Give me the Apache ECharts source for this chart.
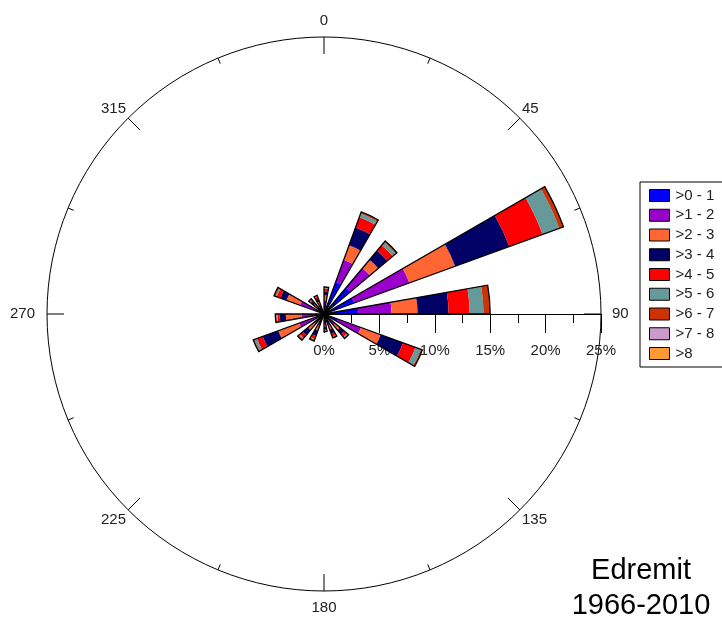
<!DOCTYPE html>
<html>
<head>
<meta charset="utf-8">
<script src="https://cdn.jsdelivr.net/npm/echarts@6/dist/echarts.min.js"></script>
<style>html,body{margin:0;padding:0;background:#fff;}#chart{width:722px;height:619px;}</style>
</head>
<body>
<div id="chart"></div>
<script>
// Compass start angle (degrees) of each 10-degree direction bin that has data
const binStarts = [0, 20, 40, 60, 80, 110, 130, 150, 170, 200, 220, 240, 260, 290, 310, 330];
const speedClasses = ['>0 - 1', '>1 - 2', '>2 - 3', '>3 - 4', '>4 - 5', '>5 - 6', '>6 - 7', '>7 - 8', '>8'];
const classColors = ['#0000FF', '#9900CC', '#FF6633', '#000066', '#FF0000', '#669999', '#CC3300', '#CC99CC', '#FF9933'];
// percent frequency per bin (same order as binStarts)
const sp0_1 = [0.6, 3.1, 3.1, 2.9, 3.1, 1.3, 0.4, 0.4, 0.4, 0.4, 0.4, 0.5, 0.6, 0.6, 0.3, 0.3];
const sp1_2 = [0.6, 2.1, 2.3, 5.3, 3.0, 2.25, 0.9, 0.7, 0.5, 0.7, 0.8, 1.9, 1.4, 1.7, 0.5, 0.5];
const sp2_3 = [0.5, 1.4, 1.0, 4.4, 2.35, 1.9, 0.6, 0.4, 0.3, 0.5, 0.7, 2.0, 1.45, 1.3, 0.4, 0.4];
const sp3_4 = [0.35, 1.7, 1.05, 5.2, 2.8, 2.15, 0.5, 0.4, 0.2, 0.5, 0.6, 1.5, 0.55, 0.6, 0.3, 0.3];
const sp4_5 = [0.25, 1.0, 0.65, 3.2, 1.9, 1.2, 0.3, 0.25, 0.1, 0.3, 0.35, 0.55, 0.2, 0.35, 0.15, 0.15];
const sp5_6 = [0.05, 0.35, 0.35, 1.6, 1.25, 0.5, 0.1, 0.05, 0.02, 0.05, 0.1, 0.25, 0.1, 0.1, 0.05, 0.05];
const sp6_7 = [0.1, 0.15, 0.15, 0.4, 0.6, 0.15, 0.1, 0.1, 0.08, 0.15, 0.15, 0.1, 0.1, 0.15, 0.1, 0.1];
const sp7_8 = [0, 0, 0, 0, 0, 0, 0, 0, 0, 0, 0, 0, 0, 0, 0, 0];
const sp8 = [0, 0, 0, 0, 0, 0, 0, 0, 0, 0, 0, 0, 0, 0, 0, 0];
const classValues = [sp0_1, sp1_2, sp2_3, sp3_4, sp4_5, sp5_6, sp6_7, sp7_8, sp8];
const angleTickLabels = [0, 45, 90, 135, 180, 225, 270, 315];
const radiusMax = 25;

// Category axis for bars starts at east (compass 90) and runs clockwise in 10-degree steps
const nBins = 36;
const catCompass = [];
for (let i = 0; i < nBins; i++) catCompass.push((90 + 10 * i) % 360);
function toCat(vals) {
  const arr = new Array(nBins).fill(0);
  binStarts.forEach((b, k) => { arr[catCompass.indexOf(b)] = vals[k]; });
  return arr;
}
const totals = binStarts.map((b, k) => classValues.reduce((s, v) => s + v[k], 0));

const FONT = 'Liberation Sans, Arial, sans-serif';
const series = speedClasses.map((name, j) => ({
  name: name,
  type: 'bar',
  coordinateSystem: 'polar',
  polarIndex: 0,
  stack: 'speed',
  data: toCat(classValues[j]),
  itemStyle: { color: classColors[j] },
  barCategoryGap: '0%',
  barGap: '-100%',
  silent: true
}));
series.push({
  name: 'outline',
  type: 'bar',
  coordinateSystem: 'polar',
  polarIndex: 0,
  data: toCat(totals),
  itemStyle: { color: 'rgba(0,0,0,0)', borderColor: '#000', borderWidth: 1.3 },
  barCategoryGap: '0%',
  barGap: '-100%',
  silent: true,
  z: 5
});

const lblBase = { fontSize: 15, fontFamily: FONT, color: '#222' };
const chart = echarts.init(document.getElementById('chart'), null, { renderer: 'canvas' });
chart.setOption({
  backgroundColor: '#fff',
  animation: false,
  polar: [
    { center: [324, 314], radius: 277 },
    { center: [324, 314], radius: 277 }
  ],
  angleAxis: [
    {
      polarIndex: 0, type: 'category', data: catCompass.map(String),
      startAngle: 0, clockwise: true, boundaryGap: true,
      axisLine: { show: false }, axisTick: { show: false }, axisLabel: { show: false }, splitLine: { show: false }
    },
    {
      polarIndex: 1, type: 'value', min: 0, max: 360, interval: 45,
      startAngle: 90, clockwise: true,
      axisLine: { show: true, lineStyle: { color: '#000', width: 1 } },
      axisTick: { show: true, inside: true, length: 17, lineStyle: { color: '#000', width: 1 } },
      minorTick: { show: true, splitNumber: 2, length: 6, lineStyle: { color: '#000', width: 1 } },
      splitLine: { show: false },
      axisLabel: {
        show: true, margin: 3, color: '#222', fontSize: 15, fontFamily: FONT,
        formatter: v => {
          if (angleTickLabels.indexOf(v) < 0) return '';
          const key = v === 0 ? 'n' : v === 90 ? 'e' : v === 180 ? 's' : v === 270 ? 'w' : 'd';
          return '{' + key + '|' + v + '}';
        },
        rich: {
          n: Object.assign({ padding: [0, 0, 6, 0] }, lblBase),
          e: Object.assign({ padding: [0, 0, 0, 8] }, lblBase),
          s: Object.assign({ padding: [6, 0, 0, 0] }, lblBase),
          w: Object.assign({ padding: [0, 9, 0, 0] }, lblBase),
          d: Object.assign({}, lblBase)
        }
      }
    }
  ],
  radiusAxis: [
    {
      polarIndex: 0, type: 'value', min: 0, max: radiusMax,
      axisLine: { show: false }, axisTick: { show: false }, axisLabel: { show: false }, splitLine: { show: false }
    },
    {
      polarIndex: 1, type: 'value', min: 0, max: 1,
      axisLine: { show: false }, axisTick: { show: false }, axisLabel: { show: false }, splitLine: { show: false }
    }
  ],
  // Percentage scale drawn from the centre towards 90 degrees, same extent as the polar radius
  grid: { left: 324, width: 277, top: 300, height: 14, containLabel: false },
  xAxis: {
    type: 'value', min: 0, max: radiusMax, interval: 5, position: 'bottom',
    axisLine: { show: true, lineStyle: { color: '#000', width: 1 } },
    axisTick: { show: true, length: 19, lineStyle: { color: '#000', width: 1 } },
    minorTick: { show: true, splitNumber: 2, length: 9, lineStyle: { color: '#000', width: 1 } },
    splitLine: { show: false },
    axisLabel: { show: true, formatter: '{value}%', color: '#222', fontSize: 15, fontFamily: FONT, margin: 29 },
    z: 1
  },
  yAxis: {
    type: 'value', show: false, min: 0, max: 1
  },
  legend: {
    orient: 'vertical',
    left: 640, top: 182,
    data: speedClasses,
    selectedMode: false,
    icon: 'rect',
    itemWidth: 20, itemHeight: 12, itemGap: 4.75,
    padding: [6, 30, 6, 9],
    borderColor: '#000', borderWidth: 1,
    itemStyle: { borderColor: '#000', borderWidth: 1 },
    textStyle: { color: '#222', fontSize: 15, fontFamily: FONT, padding: [0, 0, 0, 1] }
  },
  graphic: [
    { type: 'text', x: 641, y: 571, style: { text: 'Edremit', fill: '#000', font: '29px ' + FONT, align: 'center', verticalAlign: 'middle' } },
    { type: 'text', x: 641, y: 606, style: { text: '1966-2010', fill: '#000', font: '29px ' + FONT, align: 'center', verticalAlign: 'middle' } }
  ],
  series: series
});
</script>
</body>
</html>
